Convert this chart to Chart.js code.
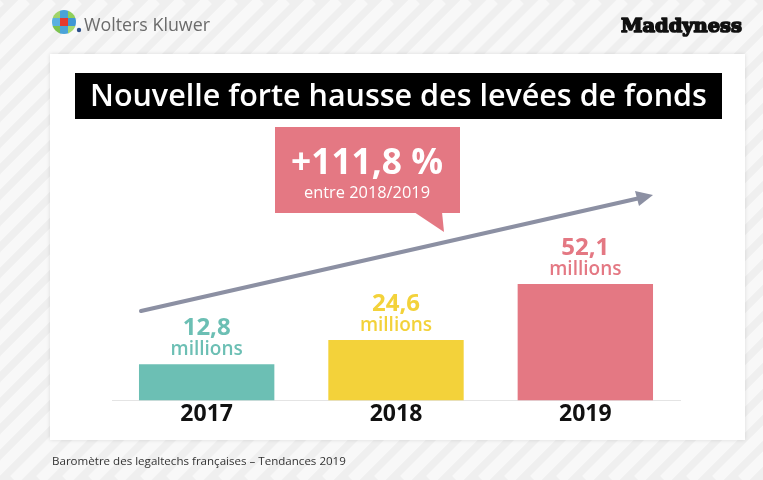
<!DOCTYPE html>
<html lang="fr">
<head>
<meta charset="UTF-8">
<title>Nouvelle forte hausse des levées de fonds</title>
<script src="https://cdn.jsdelivr.net/npm/chart.js"></script>
<style>
  html, body { margin: 0; padding: 0; background: #fff; }
  #wrap { width: 763px; height: 480px; }
</style>
</head>
<body>
<div id="wrap"><canvas id="chart" width="763" height="480"></canvas></div>
<script>
// data (millions d'euros)
const years = ['2017', '2018', '2019'];
const amounts = [12.8, 24.6, 52.1];
const amountLabels = ['12,8', '24,6', '52,1'];
const unitLabel = 'millions';
const growthLabel = '+111,8 %';
const growthPeriod = 'entre 2018/2019';
const title = 'Nouvelle forte hausse des levées de fonds';
const source = 'Baromètre des legaltechs françaises – Tendances 2019';

const barColors = ['#6cbfb4', '#f3d23a', '#e47883'];
const FONT = '"Open Sans", "Noto Sans", sans-serif';

// draw text squeezed/stretched to a given width by picking the font size
function fitText(ctx, text, x, y, width, weight, family, align) {
  ctx.font = weight + ' 100px ' + family;
  const size = 100 * width / ctx.measureText(text).width;
  ctx.font = weight + ' ' + size.toFixed(2) + 'px ' + family;
  ctx.textAlign = align || 'left';
  ctx.fillText(text, x, y);
}

const backdrop = {
  id: 'backdrop',
  beforeDraw(chart) {
    const ctx = chart.ctx;
    const W = chart.width, H = chart.height;
    ctx.save();
    // striped page background
    ctx.fillStyle = '#efefef';
    ctx.fillRect(0, 0, W, H);
    ctx.strokeStyle = '#f8f8f8';
    ctx.lineWidth = 11;
    for (let k = -H; k < W + H; k += 26) {
      ctx.beginPath();
      ctx.moveTo(k, H);
      ctx.lineTo(k + H, 0);
      ctx.stroke();
    }
    // card
    ctx.shadowColor = 'rgba(0,0,0,0.12)';
    ctx.shadowBlur = 4;
    ctx.fillStyle = '#ffffff';
    ctx.fillRect(50, 54, 695, 386);
    ctx.shadowColor = 'transparent';

    // Wolters Kluwer logo
    const cx = 64, cy = 22, r = 12;
    ctx.save();
    ctx.beginPath();
    ctx.arc(cx, cy, r, 0, Math.PI * 2);
    ctx.clip();
    const cells = [
      ['#9fd36a', '#4aa3d8', '#8fcf5a'],
      ['#5ab0e0', '#e53a2e', '#3f97d4'],
      ['#7cc24e', '#4aa3d8', '#a6d86f']
    ];
    const s = (2 * r) / 3;
    for (let i = 0; i < 3; i++) {
      for (let j = 0; j < 3; j++) {
        ctx.fillStyle = cells[i][j];
        ctx.fillRect(cx - r + j * s, cy - r + i * s, s + 0.5, s + 0.5);
      }
    }
    ctx.restore();
    ctx.fillStyle = '#2b4f8a';
    ctx.beginPath();
    ctx.arc(79, 30, 2.2, 0, Math.PI * 2);
    ctx.fill();
    ctx.fillStyle = '#6b6b6b';
    ctx.textBaseline = 'alphabetic';
    fitText(ctx, 'Wolters Kluwer', 84, 31, 126, '400', FONT);

    // Maddyness logo (heavy display serif, thickened with a stroke)
    ctx.fillStyle = '#111';
    ctx.strokeStyle = '#111';
    ctx.lineWidth = 1.6;
    ctx.lineJoin = 'round';
    fitText(ctx, 'Maddyness', 621, 32, 121, '900', '"DejaVu Serif", "Liberation Serif", serif');
    ctx.strokeText('Maddyness', 621, 32);

    // title banner
    ctx.fillStyle = '#000';
    ctx.fillRect(75, 73, 647, 46);
    ctx.fillStyle = '#fff';
    fitText(ctx, title, 90, 106, 617, '600', FONT);

    // callout
    ctx.fillStyle = '#e47883';
    ctx.fillRect(275, 127, 185, 86);
    ctx.beginPath();
    ctx.moveTo(414, 212);
    ctx.lineTo(442, 212);
    ctx.lineTo(444, 232);
    ctx.closePath();
    ctx.fill();
    ctx.fillStyle = '#fff';
    fitText(ctx, growthLabel, 367, 174, 152, '700', FONT, 'center');
    fitText(ctx, growthPeriod, 367, 198, 126, '400', FONT, 'center');

    // source
    ctx.fillStyle = '#333';
    fitText(ctx, source, 52, 465, 294, '400', FONT);
    ctx.restore();
  },
  beforeDatasetsDraw(chart) {
    const ctx = chart.ctx;
    ctx.save();
    // trend arrow
    ctx.strokeStyle = '#8c90a3';
    ctx.fillStyle = '#8c90a3';
    ctx.lineWidth = 4;
    ctx.lineCap = 'round';
    ctx.beginPath();
    ctx.moveTo(141, 311);
    ctx.lineTo(640, 198);
    ctx.stroke();
    ctx.beginPath();
    ctx.moveTo(653, 195);
    ctx.lineTo(635, 191);
    ctx.lineTo(639, 206);
    ctx.closePath();
    ctx.fill();
    ctx.restore();
  },
  afterDatasetsDraw(chart) {
    const ctx = chart.ctx;
    const meta = chart.getDatasetMeta(0);
    ctx.save();
    ctx.textAlign = 'center';
    ctx.textBaseline = 'alphabetic';
    meta.data.forEach((bar, i) => {
      ctx.fillStyle = barColors[i];
      ctx.font = '700 24px ' + FONT;
      ctx.fillText(amountLabels[i], bar.x, bar.y - 29);
      ctx.font = '600 19px ' + FONT;
      ctx.fillText(unitLabel, bar.x, bar.y - 9);
    });
    ctx.restore();
  }
};

new Chart(document.getElementById('chart'), {
  type: 'bar',
  data: {
    labels: years,
    datasets: [{
      data: amounts,
      backgroundColor: barColors,
      borderWidth: 0,
      base: -5,
      barPercentage: 0.715,
      categoryPercentage: 1
    }]
  },
  options: {
    responsive: false,
    animation: false,
    layout: { padding: { left: 112, right: 83, top: 268, bottom: 52 } },
    plugins: { legend: { display: false }, tooltip: { enabled: false } },
    scales: {
      x: {
        grid: { display: false, drawTicks: false },
        border: { display: true, color: '#e4e4e4', width: 1 },
        ticks: { color: '#111', padding: 0, font: { family: FONT, size: 23, weight: '700' } }
      },
      y: { display: false, min: -5, max: 60 }
    }
  },
  plugins: [backdrop]
});
</script>
</body>
</html>
